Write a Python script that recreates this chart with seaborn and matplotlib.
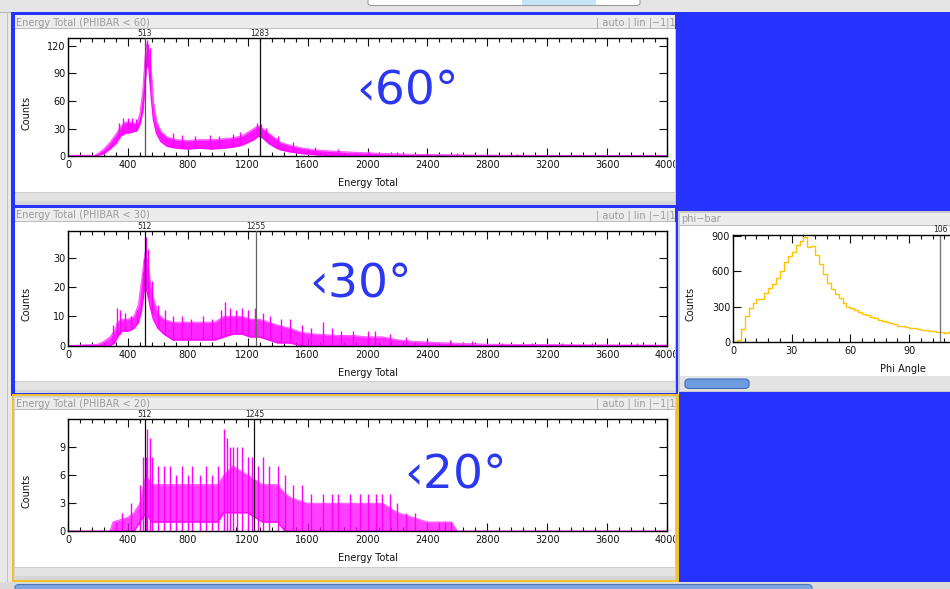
import numpy as np
import pandas as pd
import seaborn as sns
import matplotlib
matplotlib.use("Agg")
import matplotlib.pyplot as plt
from matplotlib.patches import Rectangle, FancyBboxPatch
from matplotlib.ticker import MultipleLocator

# ---------------- data ----------------
# Energy Total (PHIBAR < 60): dense noise band (lower / upper) + tallest spikes
e60 = [0, 40, 180, 200, 240, 280, 320, 350, 380, 420, 460, 480, 500, 515, 525, 540, 555, 570, 590, 620,
       660, 720, 800, 880, 960, 1040, 1100, 1160, 1200, 1240, 1270, 1300, 1340, 1380, 1420, 1480, 1560,
       1640, 1720, 1820, 1950, 2100, 2300, 2550, 2900, 3200, 4000]
lo60 = [0, 0, 0, 1, 3, 8, 14, 22, 25, 26, 28, 35, 50, 80, 100, 95, 65, 40, 25, 16,
        11, 9, 8, 9, 8, 9, 10, 12, 15, 18, 22, 20, 14, 10, 7, 5, 3,
        2, 1, 1, 0, 0, 0, 0, 0, 0, 0]
hi60 = [0, 1, 1, 3, 8, 15, 24, 32, 37, 37, 35, 46, 72, 108, 122, 114, 90, 58, 38, 27,
        21, 18, 17, 18, 18, 19, 20, 22, 26, 30, 33, 30, 25, 20, 15, 12, 9,
        7, 6, 5, 4, 3, 2, 1.5, 1, 0.8, 0.6]
spk60_e = [340, 365, 400, 430, 452, 528, 536, 548, 700, 760, 850, 950, 1010, 1100, 1150, 1262, 1290,
           1325, 1400, 1500, 1650, 1800, 2000, 2200, 2400, 2600, 3000]
spk60_h = [36, 42, 41, 42, 40, 126, 122, 118, 25, 23, 22, 23, 22, 24, 26, 36, 35, 31, 22, 15, 10, 8,
           6, 5, 4, 3, 2]

# Energy Total (PHIBAR < 30)
e30 = [0, 200, 240, 280, 310, 330, 360, 400, 440, 470, 490, 505, 515, 530, 550, 570, 600, 640, 700,
       800, 900, 980, 1040, 1100, 1160, 1220, 1280, 1340, 1400, 1480, 1560, 1640, 1800, 1900, 2000,
       2100, 2200, 2300, 2500, 2800, 3400, 4000]
lo30 = [0, 0, 0, 0, 1, 3, 5, 5, 6, 8, 12, 18, 20, 18, 13, 9, 6, 4, 2,
        2, 2, 2, 3, 4, 4, 3, 3, 2, 1, 1, 0, 0, 0, 0, 0,
        0, 0, 0, 0, 0, 0, 0]
hi30 = [0, 0.5, 1.5, 3, 5, 8, 9, 9, 10, 14, 22, 28, 32, 29, 21, 16, 11, 9, 8,
        8, 8, 8, 10, 10, 10, 9, 9, 8, 7, 6, 4.5, 4, 3.5, 3.5, 3,
        3, 2, 1.5, 1, 0.5, 0.3, 0.2]
spk30_e = [300, 330, 345, 380, 420, 460, 500, 510, 520, 535, 560, 600, 650, 700, 760, 820, 900, 960,
           1020, 1050, 1080, 1120, 1160, 1200, 1250, 1300, 1350, 1420, 1480, 1560, 1620, 1700, 1760,
           1820, 1900, 2000, 2050, 2150, 2260, 2400, 2550, 2700, 2900, 3100, 3300, 3500, 3800]
spk30_h = [7, 13, 12, 11, 10, 12, 25, 30, 37, 33, 22, 14, 12, 10, 10, 9, 10, 9, 12, 15, 13, 12, 13,
           12, 13, 11, 10, 9, 9, 7, 6, 8, 6, 5, 5, 5, 5, 4, 3, 2, 2, 1.5, 1, 1, 1, 1, 1]

# Energy Total (PHIBAR < 20)
e20 = [0, 280, 300, 400, 440, 480, 520, 560, 640, 800, 1000, 1040, 1100, 1200, 1300, 1400, 1450,
       1500, 1600, 2000, 2100, 2200, 2300, 2400, 2560, 2600, 4000]
lo20 = [0, 0, 0, 0, 0, 1, 2, 1, 1, 1, 1, 2, 2, 2, 1, 1, 0,
        0, 0, 0, 0, 0, 0, 0, 0, 0, 0]
hi20 = [0, 0, 1, 1.5, 2, 3, 6, 5, 5, 5, 5, 6, 7, 6, 5, 5, 4,
        3.5, 3, 3, 3, 2, 1.5, 1, 1, 0, 0]
spk20_e = [320, 360, 420, 480, 500, 520, 530, 545, 560, 600, 640, 680, 720, 760, 800, 830, 880, 920,
           960, 1000, 1040, 1060, 1080, 1100, 1130, 1160, 1200, 1230, 1270, 1300, 1340, 1400, 1450,
           1500, 1560, 1620, 1700, 1760, 1800, 1880, 1950, 2000, 2060, 2100, 2150, 2200, 2260, 2320,
           2400, 2480, 2520, 2560]
spk20_h = [1, 2, 3, 5, 8, 8, 11, 10, 8, 7, 7, 7, 6, 7, 6, 7, 6, 7, 6, 7, 11, 10, 9, 9, 9, 9, 8, 8,
           7, 8, 7, 7, 6, 5, 5, 4, 4, 4, 4, 4, 4, 4, 4, 4, 4, 3, 2, 2, 1, 1, 1, 1]

panel_titles = ["Energy Total (PHIBAR < 60)", "Energy Total (PHIBAR < 30)", "Energy Total (PHIBAR < 20)"]
panel_tags = ["‹60°", "‹30°", "‹20°"]
panel_markers = [[513, 1283], [512, 1255], [512, 1245]]
panel_yticks = [[0, 30, 60, 90, 120], [0, 10, 20, 30], [0, 3, 6, 9]]
panel_ymax = [128, 39.1, 12.0]

# phi-bar histogram (2-degree bins)
phi_edges = list(range(0, 114, 2))
phi_counts = [0, 20, 110, 220, 290, 330, 365, 365, 420, 460, 490, 540, 600, 680, 730, 760, 820, 860,
              895, 810, 815, 740, 660, 580, 500, 450, 410, 370, 330, 300, 285, 270, 255, 240, 225, 210,
              200, 190, 180, 168, 160, 152, 140, 132, 125, 120, 116, 110, 106, 102, 96, 92, 88, 84, 80, 82]
phi_marker = 106

# ---------------- figure ----------------
sns.set_theme(style="ticks")
plt.rcParams["font.family"] = ["DejaVu Sans"]

W, H = 950, 589
fig = plt.figure(figsize=(9.5, 5.89), dpi=100, facecolor="#E8E8E8")

BLUE = "#2633FF"
MAG = "#FF00FF"


def rect(x0, y0, x1, y1, fc, ec="none", lw=0, z=-5):
    r = Rectangle((x0 / W, 1 - y1 / H), (x1 - x0) / W, (y1 - y0) / H, transform=fig.transFigure,
                  facecolor=fc, edgecolor=ec, linewidth=lw, zorder=z)
    fig.add_artist(r)


def rrect(x0, y0, x1, y1, fc, ec="none", lw=0.6, z=-4, rad=0.004):
    r = FancyBboxPatch((x0 / W, 1 - y1 / H), (x1 - x0) / W, (y1 - y0) / H,
                       boxstyle="round,pad=0,rounding_size=%f" % rad, transform=fig.transFigure,
                       facecolor=fc, edgecolor=ec, linewidth=lw, zorder=z)
    fig.add_artist(r)


def ftext(x, y, s, z=3, **kw):
    fig.text(x / W, 1 - y / H, s, zorder=z, **kw)


# window chrome
rect(0, 0, 950, 12.5, "#E5E5E5")
rect(0, 12, 950, 12.8, "#B5B5B5")
rrect(368, -6, 640, 5.5, "white", ec="#9C9C9C", lw=0.8)
rect(522, 0, 596, 5, "#C4E5F6", z=-3)
rect(442.5, 0, 443.3, 5, "#B0B0B0", z=-3)
rect(7, 12, 7.8, 589, "#C2C2C2")

# panel 1 and 2 frames (blue), panel 3 frame (orange)
rect(11, 12.5, 677, 208, BLUE)
rect(11, 205, 677, 395.5, BLUE)
rect(11.5, 394, 678.5, 582, "#F2C12E")
rect(13.5, 396, 676.5, 580, "#D5D5D5")
frames = [(15.5, 29, 192, 204.5), (208.5, 222, 381, 392.5), (397.5, 410, 567, 578.5)]
for (ty, wy, sy, by) in frames:
    rect(15, ty, 675, wy, "#ECECEC")
    rect(15, wy - 0.6, 675, wy, "#BDBDBD")
    rect(15, wy, 675, sy, "white")
    rect(15, sy, 675, by, "#E3E3E3")
    rect(15, sy, 675, sy + 0.8, "#CDCDCD")
    rect(15, by - 3, 675, by, "#D6D6D6")

# right side blue areas (drawn above, they also clip overflowing text)
rect(675.5, 12.5, 950, 210.5, BLUE, z=10)
rect(675.5, 205, 678, 395, BLUE, z=10)
rect(674.5, 29, 675.5, 204.5, "#C8C8C8", z=10)
rect(674.5, 222, 675.5, 392.5, "#C8C8C8", z=10)
rect(675.5, 394, 678.5, 582, "#F2C12E", z=10)
rect(674.5, 410, 675.5, 578.5, "#C8C8C8", z=10)
rect(678.5, 392, 950, 582, BLUE, z=10)

# phi-bar panel chrome
rect(678, 210.5, 950, 392, "#C9C9C9")
rect(679.5, 212.5, 950, 226, "#ECECEC")
rect(679.5, 225.4, 950, 226, "#BDBDBD")
rect(679.5, 226, 950, 376, "white")
rect(679.5, 376, 950, 390.5, "#E3E3E3")
rrect(685, 379, 749, 388.5, "#6E9CE0", ec="#3F6DB5", lw=0.8, rad=0.005)
ftext(681, 219.5, "phi\u2212bar", color="#9A9A9A", fontsize=7, va="center", ha="left")

# bottom scrollbar strip
rect(0, 582, 950, 589, "#DADADA")
rrect(15, 584.5, 812, 594, "#7DA6E3", ec="#4A74B8", lw=0.8, z=-3, rad=0.005)

# ---------------- energy panels ----------------
datasets = [(e60, lo60, hi60, spk60_e, spk60_h), (e30, lo30, hi30, spk30_e, spk30_h),
            (e20, lo20, hi20, spk20_e, spk20_h)]
axes_y = [(38.3, 156.2), (231.0, 345.7), (419.3, 531.3)]
xlabel_y = [183, 373, 558]
counts_y = [113, 304, 491]
title_y = [22.5, 215.5, 404]
tag_pos = [(408, 92), (361, 285), (456, 476)]
marker_colors = [["#555555", "#111111"], ["#111111", "#666666"], ["#111111", "#111111"]]
band_alpha = [0.92, 0.85, 0.75]
spike_floor = [1.0, 1.0, 0.0]   # fraction of the band's lower edge where a spike starts
AX_L, AX_R = 68.0, 667.0

for i, (E, lo, hi, se, sh) in enumerate(datasets):
    yt, yb = axes_y[i]
    ax = fig.add_axes([AX_L / W, 1 - yb / H, (AX_R - AX_L) / W, (yb - yt) / H])
    ax.set_facecolor("white")
    df = pd.DataFrame({"energy": E, "lo": lo, "hi": hi})
    ax.fill_between(df["energy"], df["lo"], df["hi"], color=MAG, linewidth=0.8,
                    edgecolor="#FF66FF", alpha=band_alpha[i], zorder=2)
    sns.lineplot(data=df, x="energy", y="hi", ax=ax, color="#FF55FF", linewidth=0.7, zorder=2)
    sns.lineplot(data=df, x="energy", y="lo", ax=ax, color=MAG, linewidth=0.9, zorder=2)
    base = np.interp(se, E, lo) * spike_floor[i]
    ax.vlines(se, base, sh, colors=MAG, linewidth=1.0, zorder=2)
    for m, c in zip(panel_markers[i], marker_colors[i]):
        ax.axvline(m, color=c, linewidth=0.9, zorder=3)
        ax.text(m, 1.004, str(m), transform=ax.get_xaxis_transform(), ha="center", va="bottom",
                fontsize=5.5, color="#222222")
    ax.set_xlim(0, 4000)
    ax.set_ylim(0, panel_ymax[i])
    ax.xaxis.set_major_locator(MultipleLocator(400))
    ax.xaxis.set_minor_locator(MultipleLocator(80))
    ax.set_yticks(panel_yticks[i])
    ax.tick_params(which="both", direction="in", top=True, right=True, labelsize=7, colors="#111111",
                   width=0.8)
    ax.tick_params(which="major", length=6)
    ax.tick_params(which="minor", length=3)
    ax.tick_params(axis="x", pad=3)
    ax.tick_params(axis="y", pad=2)
    for s in ax.spines.values():
        s.set_color("black")
        s.set_linewidth(1.0)
    h = yb - yt
    ax.set_xlabel("Energy Total", fontsize=7, color="#111111")
    ax.xaxis.set_label_coords(0.5, -(xlabel_y[i] - yb) / h)
    ax.xaxis.label.set_va("center")
    ax.set_ylabel("Counts", fontsize=7, color="#111111")
    ax.yaxis.set_label_coords((27 - AX_L) / (AX_R - AX_L), (yb - counts_y[i]) / h)
    ax.yaxis.label.set_va("center")
    ftext(15.5, title_y[i], panel_titles[i], color="#9A9A9A", fontsize=7, va="center", ha="left")
    ftext(676, title_y[i], "| auto | lin |\u22121|1", color="#9A9A9A", fontsize=7, va="center",
          ha="right", z=5)
    tx, ty = tag_pos[i]
    ftext(tx, ty, panel_tags[i], color="#2B38F0", fontsize=34, va="center", ha="center", z=6)

# ---------------- phi-bar panel ----------------
PX_L, PX_R, PY_T, PY_B = 733.0, 950.0, 235.0, 342.0
axp = fig.add_axes([PX_L / W, 1 - PY_B / H, (PX_R - PX_L) / W, (PY_B - PY_T) / H])
axp.set_facecolor("white")
phi_df = pd.DataFrame({"phi": [(a + b) / 2 for a, b in zip(phi_edges[:-1], phi_edges[1:])],
                       "counts": phi_counts})
sns.histplot(data=phi_df, x="phi", weights="counts", bins=phi_edges, element="step", fill=False,
             color="#FFC400", linewidth=1.0, ax=axp)
axp.axvline(phi_marker, color="#777777", linewidth=1.0)
axp.text(phi_marker, 1.01, str(phi_marker), transform=axp.get_xaxis_transform(), ha="center",
         va="bottom", fontsize=5.5, color="#222222")
axp.set_xlim(0, (PX_R - PX_L) / 1.956)
axp.set_ylim(0, 908)
axp.set_xticks([0, 30, 60, 90])
axp.xaxis.set_minor_locator(MultipleLocator(6))
axp.set_yticks([0, 300, 600, 900])
axp.tick_params(which="both", direction="in", top=True, right=False, labelsize=7, colors="#111111",
                width=0.8)
axp.tick_params(which="major", length=6)
axp.tick_params(which="minor", length=3)
axp.tick_params(axis="x", pad=3)
axp.tick_params(axis="y", pad=2)
axp.spines["right"].set_visible(False)
for s in ["left", "top", "bottom"]:
    axp.spines[s].set_color("black")
    axp.spines[s].set_linewidth(1.0)
axp.set_xlabel("Phi Angle", fontsize=7, color="#111111")
axp.xaxis.set_label_coords((903 - PX_L) / (PX_R - PX_L), -(369 - PY_B) / (PY_B - PY_T))
axp.xaxis.label.set_va("center")
axp.set_ylabel("Counts", fontsize=7, color="#111111")
axp.yaxis.set_label_coords((691 - PX_L) / (PX_R - PX_L), (PY_B - 304) / (PY_B - PY_T))
axp.yaxis.label.set_va("center")

fig.savefig("out.png", dpi=100, facecolor=fig.get_facecolor())
